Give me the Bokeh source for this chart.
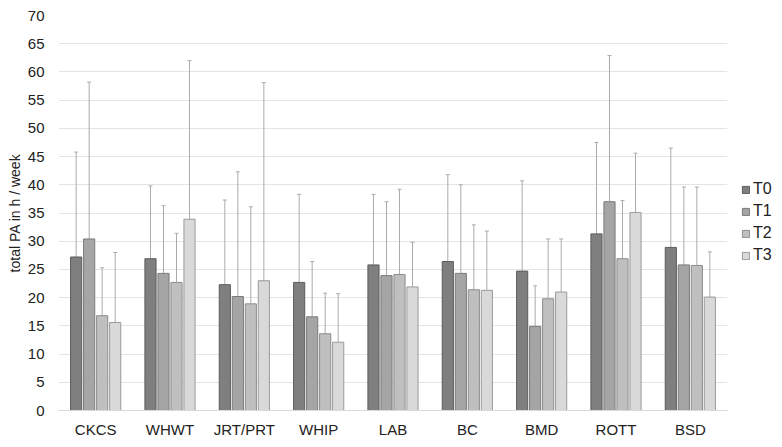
from bokeh.plotting import figure
from bokeh.models import ColumnDataSource, FactorRange, Whisker, TeeHead, Legend, LegendItem
from bokeh.transform import dodge
from bokeh.embed import file_html
from bokeh.resources import INLINE

categories = ["CKCS", "WHWT", "JRT/PRT", "WHIP", "LAB", "BC", "BMD", "ROTT", "BSD"]
series = ["T0", "T1", "T2", "T3"]

t0_mean = [27.2, 26.9, 22.3, 22.7, 25.8, 26.4, 24.7, 31.3, 28.9]
t1_mean = [30.4, 24.3, 20.2, 16.6, 23.9, 24.3, 14.9, 37.0, 25.8]
t2_mean = [16.8, 22.7, 18.9, 13.6, 24.1, 21.4, 19.8, 26.9, 25.7]
t3_mean = [15.6, 33.9, 23.0, 12.1, 21.9, 21.3, 21.0, 35.1, 20.1]

t0_upper = [45.8, 39.8, 37.3, 38.3, 38.3, 41.8, 40.7, 47.5, 46.5]
t1_upper = [58.2, 36.3, 42.3, 26.4, 37.0, 40.0, 22.1, 62.9, 39.6]
t2_upper = [25.3, 31.4, 36.1, 20.8, 39.2, 32.9, 30.4, 37.2, 39.6]
t3_upper = [28.0, 62.0, 58.1, 20.7, 29.8, 31.8, 30.4, 45.6, 28.1]

means = [t0_mean, t1_mean, t2_mean, t3_mean]
uppers = [t0_upper, t1_upper, t2_upper, t3_upper]

fills = ["#7f7f7f", "#a5a5a5", "#bfbfbf", "#d9d9d9"]
lines = ["#5c5c5c", "#7a7a7a", "#8c8c8c", "#9a9a9a"]
offsets = [-0.2625, -0.0875, 0.0875, 0.2625]

FONT = "Liberation Sans"

p = figure(x_range=FactorRange(*categories, range_padding=0), y_range=(0, 70),
           frame_width=669, frame_height=395, output_backend="svg", toolbar_location=None,
           min_border_left=58, min_border_right=0, min_border_top=15, min_border_bottom=10)

p.outline_line_color = None
p.xgrid.grid_line_color = None
p.ygrid.grid_line_color = "#e4e4e4"
p.ygrid.grid_line_width = 1

p.yaxis.ticker = list(range(0, 75, 5))
p.yaxis.axis_line_color = None
p.yaxis.major_tick_line_color = None
p.yaxis.minor_tick_line_color = None
p.yaxis.major_tick_out = 0
p.yaxis.major_label_standoff = 14
p.yaxis.major_label_text_font = FONT
p.yaxis.major_label_text_font_size = "15px"
p.yaxis.major_label_text_color = "#222222"
p.yaxis.axis_label = "total PA in h / week"
p.yaxis.axis_label_text_font = FONT
p.yaxis.axis_label_text_font_size = "14px"
p.yaxis.axis_label_text_font_style = "normal"
p.yaxis.axis_label_text_color = "#222222"
p.yaxis.axis_label_standoff = 2

p.xaxis.axis_line_color = "#d9d9d9"
p.xaxis.major_tick_line_color = None
p.xaxis.minor_tick_line_color = None
p.xaxis.major_tick_out = 0
p.xaxis.major_label_standoff = 10
p.xaxis.major_label_text_font = FONT
p.xaxis.major_label_text_font_size = "15px"
p.xaxis.major_label_text_color = "#222222"

items = []
for i, s in enumerate(series):
    src = ColumnDataSource(dict(cat=categories, mean=means[i], upper=uppers[i]))
    w = Whisker(base=dodge("cat", offsets[i], range=p.x_range), lower="mean", upper="upper",
                source=src, dimension="height", line_color="#ababab", line_width=1,
                lower_head=None,
                upper_head=TeeHead(size=4, line_color="#ababab", line_width=1),
                level="underlay")
    p.add_layout(w)
    r = p.vbar(x=dodge("cat", offsets[i], range=p.x_range), top="mean", width=0.15,
               source=src, fill_color=fills[i], line_color=lines[i], line_width=1)
    items.append(LegendItem(label=s, renderers=[r]))

legend = Legend(items=items, location=(14, 145), border_line_color=None,
                background_fill_alpha=0, padding=0, margin=0, spacing=2,
                glyph_width=9, glyph_height=9, label_height=20,
                label_standoff=3, label_text_font=FONT, label_text_font_size="16px",
                label_text_color="#222222")
p.add_layout(legend, "right")
p.min_border_right = 45

open("out.html", "w").write(file_html(p, INLINE))
